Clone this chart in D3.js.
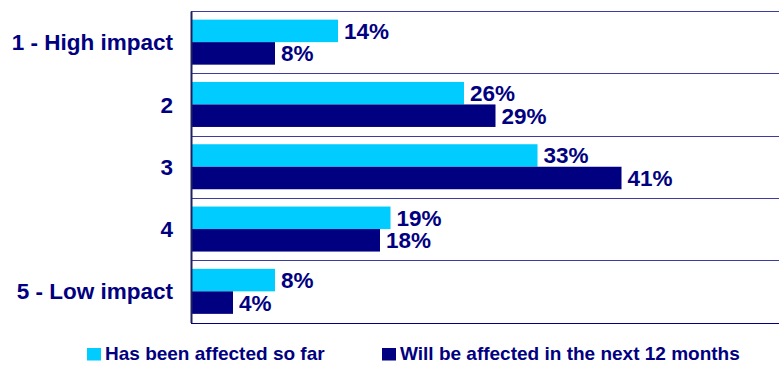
<!DOCTYPE html>
<html>
<head>
<meta charset="utf-8">
<script src="https://cdn.jsdelivr.net/npm/d3@7"></script>
<style>
  html, body { margin: 0; padding: 0; background: #fff; }
  svg { display: block; }
  text { font-family: "Liberation Sans", Arial, Helvetica, sans-serif; font-weight: bold; fill: #000080; }
</style>
</head>
<body>
<svg id="chart" width="779" height="365"></svg>
<script>
// Impact ratings and share of respondents per rating
const categories = ["1 - High impact", "2", "3", "4", "5 - Low impact"];
const seriesNames = ["Has been affected so far", "Will be affected in the next 12 months"];
const affectedSoFar = [14, 26, 33, 19, 8];
const affectedNext12 = [8, 29, 41, 18, 4];
const seriesColors = ["#00CCFF", "#000080"];

const series = [affectedSoFar, affectedNext12];
const rows = categories.map((c, i) => ({
  category: c,
  values: series.map((s, j) => ({ key: seriesNames[j], value: s[i], color: seriesColors[j] }))
}));

const svg = d3.select("#chart");
const plotLeft = 191, plotTop = 11, plotBottom = 322.5, plotRight = 779;

const x = d3.scaleLinear().domain([0, 60]).range([plotLeft, plotLeft + 630]);
const y = d3.scaleBand().domain(categories).range([plotTop, plotBottom]).paddingInner(0).paddingOuter(0);
const inner = d3.scaleBand().domain(seriesNames).range([0, y.bandwidth()]).paddingInner(0).paddingOuter(0.384);

// Row separators
const bounds = categories.map(c => y(c)).concat([plotBottom]);
svg.append("g").selectAll("line").data(bounds).join("line")
  .attr("x1", plotLeft).attr("x2", plotRight)
  .attr("y1", d => Math.round(d) + 0.5).attr("y2", d => Math.round(d) + 0.5)
  .attr("stroke", (d, i) => i === bounds.length - 1 ? "#000080" : "#3c3ca0")
  .attr("stroke-width", 1.2);

// Bars
const groups = svg.append("g").selectAll("g").data(rows).join("g")
  .attr("transform", d => `translate(0,${y(d.category)})`);

groups.selectAll("rect").data(d => d.values).join("rect")
  .attr("x", x(0))
  .attr("y", d => inner(d.key))
  .attr("width", d => x(d.value) - x(0))
  .attr("height", inner.bandwidth())
  .attr("fill", d => d.color);

groups.selectAll("text.val").data(d => d.values).join("text")
  .attr("class", "val")
  .attr("x", d => x(d.value) + 6)
  .attr("y", d => inner(d.key) + inner.bandwidth() / 2 + 8)
  .attr("font-size", 22.5)
  .text(d => d.value + "%");

// Category axis
const yAxis = d3.axisLeft(y).tickSize(0).tickPadding(18);
const ag = svg.append("g").attr("transform", `translate(${plotLeft},0)`).call(yAxis);
ag.select(".domain").attr("stroke", "#202060").attr("stroke-width", 2);
ag.selectAll(".tick text")
  .attr("font-size", 22.5)
  .attr("fill", "#000080")
  .attr("font-family", "'Liberation Sans', Arial, sans-serif")
  .attr("font-weight", "bold")
  .attr("dy", "0.36em");

// Legend
const legendItems = [
  { name: seriesNames[0], color: seriesColors[0], x: 87 },
  { name: seriesNames[1], color: seriesColors[1], x: 382 }
];
const lg = svg.append("g").selectAll("g").data(legendItems).join("g")
  .attr("transform", d => `translate(${d.x},348)`);
lg.append("rect").attr("width", 14).attr("height", 12.5).attr("fill", d => d.color);
lg.append("text").attr("x", 18).attr("y", 12.3).attr("font-size", 19).text(d => d.name);
</script>
</body>
</html>
